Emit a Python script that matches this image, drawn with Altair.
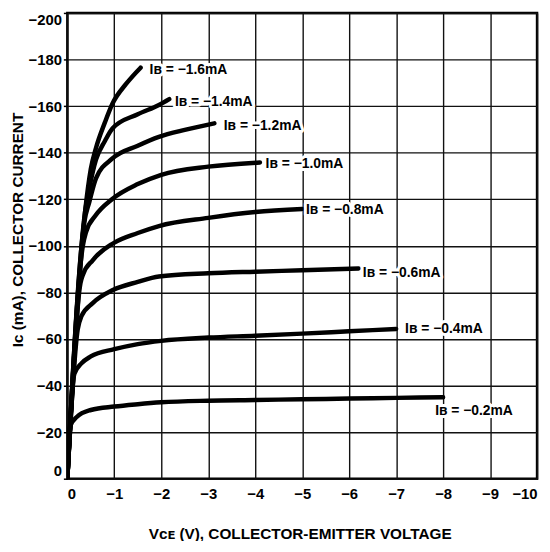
import altair as alt
import pandas as pd

# ---- data -------------------------------------------------------------
x_ticks = [0, -1, -2, -3, -4, -5, -6, -7, -8, -9, -10]
y_ticks = [0, -20, -40, -60, -80, -100, -120, -140, -160, -180, -200]

ib_names = ["-0.2", "-0.4", "-0.6", "-0.8", "-1.0", "-1.2", "-1.4", "-1.6"]

v_02 = [0, -0.07, -0.2, -0.5, -1, -1.5, -2, -3, -4, -5, -6, -7, -8]
i_02 = [0, -23, -26.5, -29.5, -31, -32, -32.8, -33.5, -33.8, -34.1, -34.4, -34.7, -35]

v_04 = [0, -0.15, -0.3, -0.5, -1, -1.5, -2, -3, -4, -5, -6, -7]
i_04 = [0, -45, -49.5, -52.5, -55.6, -57.8, -59.2, -60.6, -61.4, -62.3, -63.3, -64.3]

v_06 = [0, -0.22, -0.3, -0.54, -0.97, -1.5, -1.95, -3, -4, -5, -6.2]
i_06 = [0, -64, -69.8, -75.4, -81, -84.5, -86.8, -88.2, -88.9, -89.5, -90.3]

v_08 = [0, -0.28, -0.33, -0.54, -0.97, -1.5, -1.95, -3, -4, -5]
i_08 = [0, -84, -87.5, -93.8, -101, -105.5, -108.5, -112, -114.5, -115.8]

v_10 = [0, -0.33, -0.4, -0.6, -0.95, -1.5, -2, -3, -4.1]
i_10 = [0, -100, -106, -113, -120, -126.5, -130.5, -134, -135.8]

v_12 = [0, -0.36, -0.47, -0.61, -0.96, -1.5, -1.95, -2.5, -3.13]
i_12 = [0, -110, -119, -129, -137.5, -143, -146.8, -149.8, -152.6]

v_14 = [0, -0.38, -0.47, -0.61, -0.8, -0.96, -1.5, -1.95, -2.17]
i_14 = [0, -115, -125, -137, -145, -150.4, -156.5, -160.5, -163]

v_16 = [0, -0.38, -0.44, -0.5, -0.61, -0.8, -0.96, -1.25, -1.56]
i_16 = [0, -115, -125, -133, -142, -153, -161, -169.5, -176.5]

label_texts = ["Iʙ = −0.2mA", "Iʙ = −0.4mA", "Iʙ = −0.6mA", "Iʙ = −0.8mA",
               "Iʙ = −1.0mA", "Iʙ = −1.2mA", "Iʙ = −1.4mA", "Iʙ = −1.6mA"]
label_v = [-7.83, -7.19, -6.29, -5.08, -4.22, -3.33, -2.29, -1.75]
label_i = [-29, -64.4, -88.2, -115.4, -135, -151.6, -161.8, -175.5]

# ---- tables ------------------------------------------------------------
series = [(ib_names[0], v_02, i_02), (ib_names[1], v_04, i_04),
          (ib_names[2], v_06, i_06), (ib_names[3], v_08, i_08),
          (ib_names[4], v_10, i_10), (ib_names[5], v_12, i_12),
          (ib_names[6], v_14, i_14), (ib_names[7], v_16, i_16)]
rows = []
for name, vs, cs in series:
    for k, (v, c) in enumerate(zip(vs, cs)):
        rows.append({"ib": name, "vce": v, "ic": c, "k": k})
df = pd.DataFrame(rows)
lab = pd.DataFrame({"label": label_texts, "vce": label_v, "ic": label_i})

FONT = "Liberation Sans"

x_scale = alt.Scale(domain=[-10, 0], reverse=True, nice=False, zero=False)
y_scale = alt.Scale(domain=[-200, 0], reverse=True, nice=False, zero=False)

x_axis = alt.Axis(
    values=x_ticks,
    labelExpr="datum.value == 0 ? '0' : '−' + abs(datum.value)",
    labelFont=FONT, labelFontWeight="bold", labelFontSize=15, labelColor="black",
    labelPadding=8, labelFlush=True,
    tickSize=0, domain=False,
    grid=True, gridColor="#111", gridWidth=1.4, gridOpacity=1,
    title="Vᴄᴇ (V), COLLECTOR-EMITTER VOLTAGE",
    titleFont=FONT, titleFontWeight="bold", titleFontSize=15.5, titleColor="black",
    titleX=235, titleY=55, titleAlign="center", titleBaseline="middle",
)
y_axis = alt.Axis(
    values=y_ticks,
    labelExpr="datum.value == 0 ? '0' : '−' + abs(datum.value)",
    labelFont=FONT, labelFontWeight="bold", labelFontSize=15, labelColor="black",
    labelPadding=2, labelFlush=True,
    tickSize=4, tickColor="black", tickWidth=1.5, domain=False,
    grid=True, gridColor="#111", gridWidth=1.4, gridOpacity=1,
    title="Iᴄ (mA), COLLECTOR CURRENT",
    titleFont=FONT, titleFontWeight="bold", titleFontSize=15.5, titleColor="black",
    titleX=-50, titleY=219, titleAngle=-90, titleAlign="center", titleBaseline="middle",
)

lines = alt.Chart(df).mark_line(
    color="black", strokeWidth=4.5, strokeCap="round", strokeJoin="round",
    interpolate="monotone", clip=True,
).encode(
    x=alt.X("vce:Q", scale=x_scale, axis=x_axis),
    y=alt.Y("ic:Q", scale=y_scale, axis=y_axis),
    detail="ib:N",
    order="k:Q",
)

halo = alt.Chart(lab).mark_text(
    align="left", baseline="middle", font=FONT, fontWeight="bold", fontSize=14,
    color="white", stroke="white", strokeWidth=6, strokeJoin="round",
).encode(x=alt.X("vce:Q", scale=x_scale), y=alt.Y("ic:Q", scale=y_scale), text="label:N")

texts = alt.Chart(lab).mark_text(
    align="left", baseline="middle", font=FONT, fontWeight="bold", fontSize=14,
    color="black",
).encode(x=alt.X("vce:Q", scale=x_scale), y=alt.Y("ic:Q", scale=y_scale), text="label:N")

chart = alt.layer(lines, halo, texts).properties(
    width=475, height=471,
    padding={"left": 60, "top": 2, "right": 5, "bottom": 60},
    autosize=alt.AutoSizeParams(type="none"),
    background="white",
).configure_view(stroke="black", strokeWidth=2.5)

chart.save("out.html", embed_options={"renderer": "svg", "actions": False})
